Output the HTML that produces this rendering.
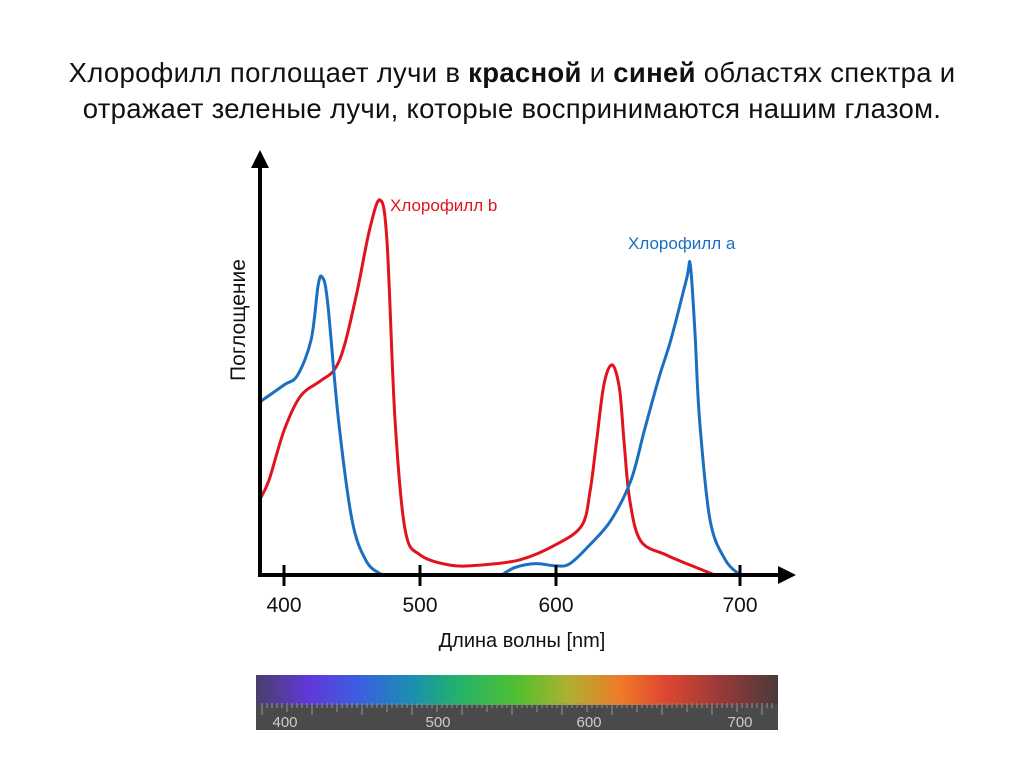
<!DOCTYPE html>
<html><head><meta charset="utf-8"><style>
body{margin:0;background:#fff;width:1024px;height:767px;overflow:hidden;font-family:"Liberation Sans",sans-serif}
.t{position:absolute;left:0;width:1024px;text-align:center;font-size:27.5px;color:#111;line-height:36px;letter-spacing:0.3px;white-space:nowrap}
</style></head><body>
<div class="t" style="top:55px">Хлорофилл поглощает лучи в <b>красной</b> и <b>синей</b> областях спектра и<br>отражает зеленые лучи, которые воспринимаются нашим глазом.</div>
<svg id="c" width="1024" height="767" style="position:absolute;left:0;top:0"></svg>
<script>
const ticks=[400,500,600,700];
const waveA=[382,400,410,420,425,428,432,440,450,460,470,478];
const absA=[45.5,50,52.6,62,76,78.4,72,41,14.5,4,0.5,0];
const waveA2=[560,570,585,600,607.6,618.5,630,640.8,648,656,662.5,671,673,675.5,678,683.7,692,700];
const absA2=[0,2,3,2.4,3,8,14.5,25,38,52,62,78,81.6,64,41,14.5,4,0];
const waveB=[382,389,400,412,426.5,437,444.5,454,463,470.6,475.7,481.6,489,500,522,544,573.5,600,614,618.5,622,626,630.5,634.5,637,640,646,659.8,673,686.4];
const absB=[19.7,25,38,47,51,54,60.5,75,91,98.7,88,41,12,5.3,2.6,2.6,4,8,13,22,35,50,55.3,49,35,20,9,5.3,2.6,0];
const NS="http://www.w3.org/2000/svg",svg=document.getElementById('c');
function X(w){return w<=600?284+(w-400)*1.36:556+(w-600)*1.84;}
function Y(v){return 575-v*3.8;}
function el(t,a,p){const e=document.createElementNS(NS,t);for(const k in a)e.setAttribute(k,a[k]);(p||svg).appendChild(e);return e;}
function path(ws,vs){const p=ws.map((w,i)=>[X(w),Y(vs[i])]);let d='M'+p[0];for(let i=0;i<p.length-1;i++){const a=p[i-1]||p[i],b=p[i],c=p[i+1],e=p[i+2]||c;d+=' C'+(b[0]+(c[0]-a[0])/6)+','+(b[1]+(c[1]-a[1])/6)+' '+(c[0]-(e[0]-b[0])/6)+','+(c[1]-(e[1]-b[1])/6)+' '+c;}return d;}
let e;
e=el('path',{d:path(waveB,absB),fill:'none',stroke:'#e0141e','stroke-width':3});


e=el('path',{d:path(waveA,absA),fill:'none',stroke:'#1a6fc0','stroke-width':3});


e=el('path',{d:path(waveA2,absA2),fill:'none',stroke:'#1a6fc0','stroke-width':3});


e=el('line',{x1:260,y1:575,x2:782,y2:575,stroke:'#000','stroke-width':4});


el('polygon',{points:'778,566 796,575 778,584',fill:'#000'});
e=el('line',{x1:260,y1:577,x2:260,y2:165,stroke:'#000','stroke-width':4});


el('polygon',{points:'251,168 260,150 269,168',fill:'#000'});
ticks.forEach(t=>{el('line',{x1:X(t),y1:565,x2:X(t),y2:586,stroke:'#000','stroke-width':3});
const tx=el('text',{x:X(t),y:612,'text-anchor':'middle','font-size':21,fill:'#111'});tx.textContent=t;

});
e=el('text',{x:522,y:647,'text-anchor':'middle','font-size':20,fill:'#111'});e.textContent='Длина волны [nm]';


e=el('text',{x:0,y:0,transform:'translate(245,320) rotate(-90)','text-anchor':'middle','font-size':21,fill:'#111'});e.textContent='Поглощение';


e=el('text',{x:390,y:211,'font-size':17,fill:'#e0141e'});e.textContent='Хлорофилл b';


e=el('text',{x:628,y:249,'font-size':17,fill:'#1a6fc0'});e.textContent='Хлорофилл a';


const defs=el('defs',{});const g=el('linearGradient',{id:'sp'},defs);
[[0,'#4a3f6a'],[.1,'#6238d8'],[.2,'#3a60e0'],[.3,'#1a90b0'],[.38,'#20b070'],[.5,'#50c030'],[.6,'#b0b030'],[.7,'#f07a28'],[.78,'#e04830'],[.88,'#a03a38'],[1,'#4a3a3a']].forEach(s=>el('stop',{offset:s[0],'stop-color':s[1]},g));
e=el('rect',{x:256,y:675,width:522,height:55,fill:'#4a4a4a'});


el('rect',{x:256,y:675,width:522,height:30,fill:'url(#sp)'});
for(let i=0;i<=102;i++){const x=262+i*5;el('line',{x1:x,y1:703,x2:x,y2:703+(i%10==0?12:i%5==0?9:5),stroke:'#8a8a8a','stroke-width':1.2});}
[[285,'400'],[438,'500'],[589,'600'],[740,'700']].forEach(s=>{const t=el('text',{x:s[0],y:727,'text-anchor':'middle','font-size':15,fill:'#ccc'});t.textContent=s[1];});
</script>
</body></html>
